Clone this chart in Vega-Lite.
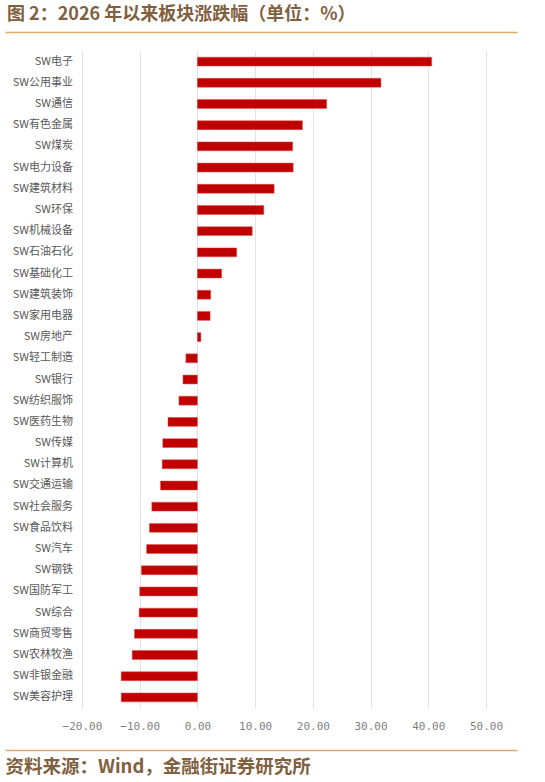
{
  "$schema": "https://vega.github.io/schema/vega-lite/v6.json",
  "width": 512,
  "height": 657,
  "padding": {"top": 6, "left": 5, "right": 5, "bottom": 3},
  "background": "white",
  "title": {
    "text": "图 2：2026 年以来板块涨跌幅（单位：%）",
    "anchor": "start",
    "font": "Noto Sans CJK SC",
    "fontSize": 18,
    "fontWeight": "bold",
    "color": "#80603F",
    "offset": 8,
    "dx": 2
  },
  "data": {
    "values": [
      {"sector": "SW电子", "value": 40.6},
      {"sector": "SW公用事业", "value": 31.8},
      {"sector": "SW通信", "value": 22.4},
      {"sector": "SW有色金属", "value": 18.2},
      {"sector": "SW煤炭", "value": 16.5},
      {"sector": "SW电力设备", "value": 16.6},
      {"sector": "SW建筑材料", "value": 13.3},
      {"sector": "SW环保", "value": 11.5},
      {"sector": "SW机械设备", "value": 9.5},
      {"sector": "SW石油石化", "value": 6.8},
      {"sector": "SW基础化工", "value": 4.2},
      {"sector": "SW建筑装饰", "value": 2.3},
      {"sector": "SW家用电器", "value": 2.2},
      {"sector": "SW房地产", "value": 0.6},
      {"sector": "SW轻工制造", "value": -2.0},
      {"sector": "SW银行", "value": -2.5},
      {"sector": "SW纺织服饰", "value": -3.2},
      {"sector": "SW医药生物", "value": -5.1},
      {"sector": "SW传媒", "value": -6.0},
      {"sector": "SW计算机", "value": -6.1},
      {"sector": "SW交通运输", "value": -6.4},
      {"sector": "SW社会服务", "value": -7.9},
      {"sector": "SW食品饮料", "value": -8.3},
      {"sector": "SW汽车", "value": -8.8},
      {"sector": "SW钢铁", "value": -9.7},
      {"sector": "SW国防军工", "value": -10.0},
      {"sector": "SW综合", "value": -10.1},
      {"sector": "SW商贸零售", "value": -10.9},
      {"sector": "SW农林牧渔", "value": -11.3},
      {"sector": "SW非银金融", "value": -13.2},
      {"sector": "SW美容护理", "value": -13.2}
    ]
  },
  "encoding": {
    "y": {
      "field": "sector",
      "type": "nominal",
      "sort": null,
      "axis": null,
      "scale": {"paddingInner": 0.58, "paddingOuter": 0.29}
    }
  },
  "layer": [
    {
      "mark": {"type": "bar", "color": "#C00000", "stroke": "#D9534F", "strokeWidth": 0.5},
      "encoding": {
        "x": {
          "field": "value",
          "type": "quantitative",
          "scale": {"domain": [-33.34, 55.38], "nice": false, "zero": false},
          "axis": {
            "orient": "bottom",
            "values": [-20, -10, 0, 10, 20, 30, 40, 50],
            "format": ".2f",
            "title": null,
            "domain": false,
            "ticks": false,
            "tickSize": 0,
            "labelPadding": 12,
            "labelFont": "DejaVu Sans Mono",
            "labelFontSize": 11,
            "labelColor": "#7F7F7F",
            "grid": true,
            "gridColor": "#E3E3E3",
            "gridWidth": 1
          }
        }
      }
    },
    {
      "mark": {"type": "text", "align": "right", "baseline": "middle", "dx": -9, "font": "Noto Sans CJK SC", "fontSize": 11, "color": "#595959"},
      "encoding": {
        "x": {
          "datum": -20,
          "type": "quantitative",
          "axis": {
            "orient": "bottom",
            "offset": 42,
            "labels": false,
            "ticks": false,
            "grid": false,
            "domain": true,
            "domainColor": "#D9AC6A",
            "domainWidth": 1.5,
            "title": "资料来源：Wind，金融街证券研究所",
            "titleAnchor": "start",
            "titleAlign": "left",
            "titleBaseline": "top",
            "titlePadding": 7,
            "titleFont": "Noto Sans CJK SC",
            "titleFontSize": 18.5,
            "titleFontWeight": "bold",
            "titleColor": "#80603F"
          }
        },
        "text": {"field": "sector"}
      }
    },
    {
      "mark": {"type": "text", "opacity": 0},
      "encoding": {
        "x": {
          "datum": 0,
          "type": "quantitative",
          "axis": {
            "orient": "top",
            "offset": 19,
            "labels": false,
            "ticks": false,
            "grid": false,
            "domain": true,
            "domainColor": "#D9AC6A",
            "domainWidth": 1.5,
            "title": null
          }
        },
        "text": {"value": ""}
      }
    }
  ],
  "resolve": {"axis": {"x": "independent"}},
  "config": {"view": {"stroke": null}}
}
